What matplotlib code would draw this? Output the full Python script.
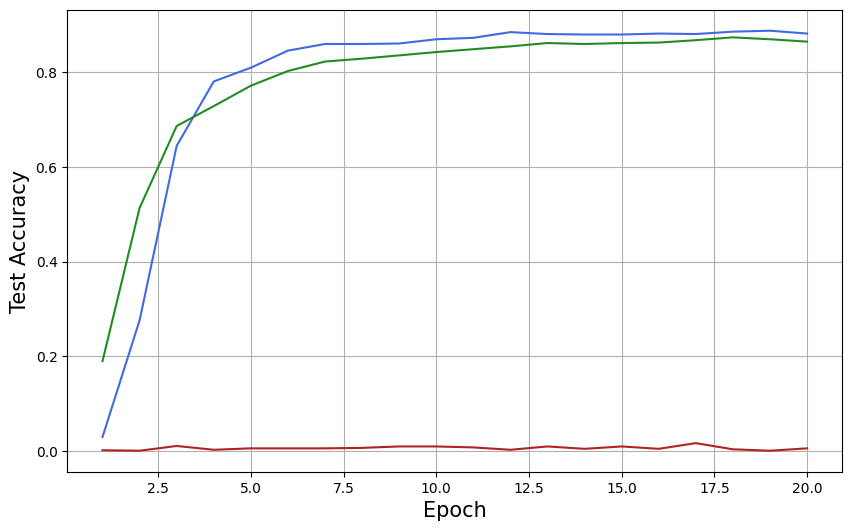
import matplotlib
matplotlib.use("Agg")
import matplotlib.pyplot as plt

epochs = list(range(1, 21))
blue_acc = [0.030, 0.276, 0.644, 0.780, 0.809, 0.845, 0.859, 0.859, 0.860, 0.869,
            0.872, 0.884, 0.880, 0.879, 0.879, 0.881, 0.880, 0.885, 0.887, 0.881]
green_acc = [0.190, 0.513, 0.686, 0.728, 0.771, 0.802, 0.822, 0.828, 0.835, 0.842,
             0.848, 0.854, 0.861, 0.859, 0.861, 0.862, 0.867, 0.873, 0.869, 0.864]
red_acc = [0.002, 0.001, 0.011, 0.003, 0.006, 0.006, 0.006, 0.007, 0.010, 0.010,
           0.008, 0.003, 0.010, 0.005, 0.010, 0.005, 0.017, 0.004, 0.001, 0.006]

fig, ax = plt.subplots(figsize=(10, 6), dpi=100)
ax.plot(epochs, blue_acc, color="royalblue")
ax.plot(epochs, green_acc, color="forestgreen")
ax.plot(epochs, red_acc, color="firebrick")
ax.set_xlabel("Epoch", fontsize=15)
ax.set_ylabel("Test Accuracy", fontsize=15)
ax.grid(True)
fig.savefig("out.png", bbox_inches="tight")
